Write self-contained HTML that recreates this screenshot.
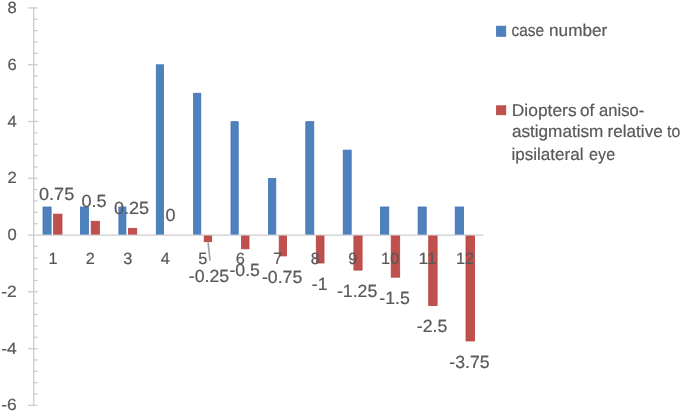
<!DOCTYPE html>
<html lang="en"><head><meta charset="utf-8"><title>Chart</title>
<style>html,body{margin:0;padding:0;background:#fff}svg{display:block}</style></head>
<body>
<svg width="685" height="412" viewBox="0 0 685 412" font-family="'Liberation Sans', Arial, sans-serif" fill="#595959" style="text-rendering:geometricPrecision">
<style>text{stroke:#595959;stroke-width:0.2px;stroke-linejoin:round}</style>
<rect width="685" height="412" fill="#fff"/>
<g stroke="#cccccc" stroke-width="1.3" fill="none">
<line x1="33.7" y1="7.33" x2="33.7" y2="405.99"/>
<line x1="28" y1="235.05" x2="483.54" y2="235.05"/>
<line x1="28" y1="7.93" x2="37.6" y2="7.93"/>
<line x1="33.7" y1="19.29" x2="37.6" y2="19.29"/>
<line x1="33.7" y1="30.64" x2="37.6" y2="30.64"/>
<line x1="33.7" y1="42.00" x2="37.6" y2="42.00"/>
<line x1="33.7" y1="53.35" x2="37.6" y2="53.35"/>
<line x1="28" y1="64.71" x2="37.6" y2="64.71"/>
<line x1="33.7" y1="76.07" x2="37.6" y2="76.07"/>
<line x1="33.7" y1="87.42" x2="37.6" y2="87.42"/>
<line x1="33.7" y1="98.78" x2="37.6" y2="98.78"/>
<line x1="33.7" y1="110.13" x2="37.6" y2="110.13"/>
<line x1="28" y1="121.49" x2="37.6" y2="121.49"/>
<line x1="33.7" y1="132.85" x2="37.6" y2="132.85"/>
<line x1="33.7" y1="144.20" x2="37.6" y2="144.20"/>
<line x1="33.7" y1="155.56" x2="37.6" y2="155.56"/>
<line x1="33.7" y1="166.91" x2="37.6" y2="166.91"/>
<line x1="28" y1="178.27" x2="37.6" y2="178.27"/>
<line x1="33.7" y1="189.63" x2="37.6" y2="189.63"/>
<line x1="33.7" y1="200.98" x2="37.6" y2="200.98"/>
<line x1="33.7" y1="212.34" x2="37.6" y2="212.34"/>
<line x1="33.7" y1="223.69" x2="37.6" y2="223.69"/>
<line x1="33.7" y1="246.41" x2="37.6" y2="246.41"/>
<line x1="33.7" y1="257.76" x2="37.6" y2="257.76"/>
<line x1="33.7" y1="269.12" x2="37.6" y2="269.12"/>
<line x1="33.7" y1="280.47" x2="37.6" y2="280.47"/>
<line x1="28" y1="291.83" x2="37.6" y2="291.83"/>
<line x1="33.7" y1="303.19" x2="37.6" y2="303.19"/>
<line x1="33.7" y1="314.54" x2="37.6" y2="314.54"/>
<line x1="33.7" y1="325.90" x2="37.6" y2="325.90"/>
<line x1="33.7" y1="337.25" x2="37.6" y2="337.25"/>
<line x1="28" y1="348.61" x2="37.6" y2="348.61"/>
<line x1="33.7" y1="359.97" x2="37.6" y2="359.97"/>
<line x1="33.7" y1="371.32" x2="37.6" y2="371.32"/>
<line x1="33.7" y1="382.68" x2="37.6" y2="382.68"/>
<line x1="33.7" y1="394.03" x2="37.6" y2="394.03"/>
<line x1="28" y1="405.39" x2="37.6" y2="405.39"/>
</g>
<rect x="43.00" y="207.01" width="8.10" height="27.09" fill="#4f81bd" stroke="#3f73b7" stroke-width="0.8"/>
<rect x="53.60" y="214.16" width="8.40" height="19.94" fill="#c0504d" stroke="#b84340" stroke-width="0.8"/>
<rect x="80.40" y="207.01" width="8.10" height="27.09" fill="#4f81bd" stroke="#3f73b7" stroke-width="0.8"/>
<rect x="91.20" y="221.26" width="8.20" height="12.84" fill="#c0504d" stroke="#b84340" stroke-width="0.8"/>
<rect x="118.90" y="207.01" width="7.00" height="27.09" fill="#4f81bd" stroke="#3f73b7" stroke-width="0.8"/>
<rect x="128.40" y="228.35" width="8.30" height="5.75" fill="#c0504d" stroke="#b84340" stroke-width="0.8"/>
<rect x="156.30" y="64.81" width="7.20" height="169.29" fill="#4f81bd" stroke="#3f73b7" stroke-width="0.8"/>
<rect x="193.60" y="93.25" width="7.20" height="140.85" fill="#4f81bd" stroke="#3f73b7" stroke-width="0.8"/>
<rect x="204.20" y="236.00" width="7.50" height="5.74" fill="#c0504d" stroke="#b84340" stroke-width="0.8"/>
<rect x="231.00" y="121.69" width="7.20" height="112.41" fill="#4f81bd" stroke="#3f73b7" stroke-width="0.8"/>
<rect x="241.60" y="236.00" width="7.40" height="12.82" fill="#c0504d" stroke="#b84340" stroke-width="0.8"/>
<rect x="268.40" y="178.57" width="7.40" height="55.53" fill="#4f81bd" stroke="#3f73b7" stroke-width="0.8"/>
<rect x="279.20" y="236.00" width="7.30" height="19.91" fill="#c0504d" stroke="#b84340" stroke-width="0.8"/>
<rect x="305.80" y="121.69" width="8.00" height="112.41" fill="#4f81bd" stroke="#3f73b7" stroke-width="0.8"/>
<rect x="316.30" y="236.00" width="7.70" height="27.00" fill="#c0504d" stroke="#b84340" stroke-width="0.8"/>
<rect x="343.20" y="150.13" width="8.00" height="83.97" fill="#4f81bd" stroke="#3f73b7" stroke-width="0.8"/>
<rect x="353.90" y="236.00" width="8.20" height="34.09" fill="#c0504d" stroke="#b84340" stroke-width="0.8"/>
<rect x="380.50" y="207.01" width="8.30" height="27.09" fill="#4f81bd" stroke="#3f73b7" stroke-width="0.8"/>
<rect x="391.20" y="236.00" width="8.50" height="41.18" fill="#c0504d" stroke="#b84340" stroke-width="0.8"/>
<rect x="418.10" y="207.01" width="8.10" height="27.09" fill="#4f81bd" stroke="#3f73b7" stroke-width="0.8"/>
<rect x="428.70" y="236.00" width="8.40" height="69.52" fill="#c0504d" stroke="#b84340" stroke-width="0.8"/>
<rect x="455.20" y="207.01" width="8.30" height="27.09" fill="#4f81bd" stroke="#3f73b7" stroke-width="0.8"/>
<rect x="466.00" y="236.00" width="8.50" height="104.96" fill="#c0504d" stroke="#b84340" stroke-width="0.8"/>
<line x1="208.1" y1="242.3" x2="210.0" y2="260.5" stroke="#a3a3a3" stroke-width="1.7"/>
<g font-size="16.3" text-anchor="end">
<text x="16.70" y="12.83" textLength="9.24" lengthAdjust="spacingAndGlyphs">8</text>
<text x="16.70" y="69.91" textLength="9.24" lengthAdjust="spacingAndGlyphs">6</text>
<text x="16.70" y="126.69" textLength="9.24" lengthAdjust="spacingAndGlyphs">4</text>
<text x="16.70" y="183.47" textLength="9.24" lengthAdjust="spacingAndGlyphs">2</text>
<text x="16.70" y="240.25" textLength="9.24" lengthAdjust="spacingAndGlyphs">0</text>
<text x="16.70" y="297.03" textLength="15.51" lengthAdjust="spacingAndGlyphs">-2</text>
<text x="16.70" y="353.81" textLength="15.51" lengthAdjust="spacingAndGlyphs">-4</text>
<text x="16.70" y="409.99" textLength="15.51" lengthAdjust="spacingAndGlyphs">-6</text>
</g>
<g font-size="16.3" text-anchor="middle">
<text x="52.93" y="264.20" textLength="9.06" lengthAdjust="spacingAndGlyphs">1</text>
<text x="90.40" y="264.20" textLength="9.06" lengthAdjust="spacingAndGlyphs">2</text>
<text x="127.87" y="264.20" textLength="9.06" lengthAdjust="spacingAndGlyphs">3</text>
<text x="165.34" y="264.20" textLength="9.06" lengthAdjust="spacingAndGlyphs">4</text>
<text x="202.82" y="264.20" textLength="9.06" lengthAdjust="spacingAndGlyphs">5</text>
<text x="240.28" y="264.20" textLength="9.06" lengthAdjust="spacingAndGlyphs">6</text>
<text x="277.75" y="264.20" textLength="9.06" lengthAdjust="spacingAndGlyphs">7</text>
<text x="315.22" y="264.20" textLength="9.06" lengthAdjust="spacingAndGlyphs">8</text>
<text x="352.69" y="264.20" textLength="9.06" lengthAdjust="spacingAndGlyphs">9</text>
<text x="390.16" y="264.20" textLength="18.13" lengthAdjust="spacingAndGlyphs">10</text>
<text x="427.63" y="264.20" textLength="18.13" lengthAdjust="spacingAndGlyphs">11</text>
<text x="465.10" y="264.20" textLength="18.13" lengthAdjust="spacingAndGlyphs">12</text>
</g>
<g font-size="17.7" text-anchor="middle">
<text x="56.63" y="199.76" textLength="35.13" lengthAdjust="spacingAndGlyphs">0.75</text>
<text x="94.10" y="206.86" textLength="25.10" lengthAdjust="spacingAndGlyphs">0.5</text>
<text x="131.57" y="213.95" textLength="35.13" lengthAdjust="spacingAndGlyphs">0.25</text>
<text x="170.54" y="221.05" textLength="10.04" lengthAdjust="spacingAndGlyphs">0</text>
<text x="209.00" y="281.70" textLength="40.34" lengthAdjust="spacingAndGlyphs">-0.25</text>
<text x="244.68" y="275.64" textLength="30.50" lengthAdjust="spacingAndGlyphs">-0.5</text>
<text x="282.15" y="282.74" textLength="40.34" lengthAdjust="spacingAndGlyphs">-0.75</text>
<text x="319.62" y="289.84" textLength="15.74" lengthAdjust="spacingAndGlyphs">-1</text>
<text x="357.09" y="296.94" textLength="40.34" lengthAdjust="spacingAndGlyphs">-1.25</text>
<text x="394.56" y="304.03" textLength="30.50" lengthAdjust="spacingAndGlyphs">-1.5</text>
<text x="432.03" y="332.42" textLength="30.50" lengthAdjust="spacingAndGlyphs">-2.5</text>
<text x="469.50" y="367.91" textLength="40.34" lengthAdjust="spacingAndGlyphs">-3.75</text>
</g>
<rect x="496.60" y="26.20" width="9.15" height="10.10" fill="#4f81bd" stroke="#3f73b7" stroke-width="0.8"/>
<rect x="496.60" y="105.80" width="9.15" height="8.95" fill="#c0504d" stroke="#b84340" stroke-width="0.8"/>
<g font-size="17">
<text x="511.60" y="36.20" textLength="32.52" lengthAdjust="spacingAndGlyphs">case</text>
<text x="549.10" y="36.20" textLength="58.10" lengthAdjust="spacingAndGlyphs">number</text>
<text x="511.80" y="115.90" textLength="64.79" lengthAdjust="spacingAndGlyphs">Diopters</text>
<text x="580.00" y="115.90" textLength="14.25" lengthAdjust="spacingAndGlyphs">of</text>
<text x="599.10" y="115.90" textLength="45.09" lengthAdjust="spacingAndGlyphs">aniso-</text>
<text x="511.90" y="137.30" textLength="91.47" lengthAdjust="spacingAndGlyphs">astigmatism</text>
<text x="607.50" y="137.30" textLength="55.29" lengthAdjust="spacingAndGlyphs">relative</text>
<text x="667.00" y="137.30" textLength="13.20" lengthAdjust="spacingAndGlyphs">to</text>
<text x="511.50" y="159.60" textLength="72.00" lengthAdjust="spacingAndGlyphs">ipsilateral</text>
<text x="589.10" y="159.60" textLength="26.09" lengthAdjust="spacingAndGlyphs">eye</text>
</g>
</svg>
</body></html>
